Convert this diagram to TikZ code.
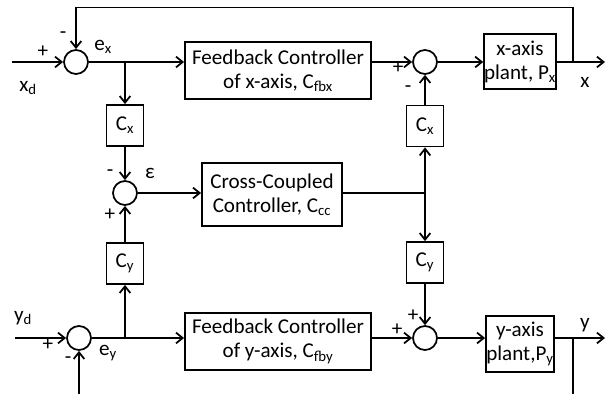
\documentclass[tikz,border=0pt]{standalone}
\usepackage{fontspec}
\setmainfont{Carlito}
\usetikzlibrary{arrows.meta,calc,positioning}
\definecolor{ccInk}{HTML}{000000}
\newcommand{\lo}[1]{\textsubscript{#1}}
\tikzset{
  cc canvas/.style={fill=white},
  cc block/.style={draw=ccInk, line width=1.5pt, rectangle, align=center,
    inner sep=0pt, font=\fontsize{18}{20.5}\selectfont},
  cc gain/.style={cc block, minimum width=1.11cm, minimum height=1.23cm},
  cc sum/.style={draw=ccInk, line width=1.5pt, circle, inner sep=0pt,
    minimum size=0.72cm},
  cc signal/.style={draw=ccInk, line width=1.5pt,
    -{Straight Barb[length=2mm,width=3.2mm,line width=1.5pt]}},
  cc wire/.style={draw=ccInk, line width=1.5pt},
  cc label/.style={font=\fontsize{18}{20}\selectfont, text=ccInk, inner sep=0pt}
}

\begin{document}
\begin{tikzpicture}[x=0.03cm,y=-0.03cm]
  \path[cc canvas] (0,0) rectangle (612,394);
  \useasboundingbox (0,0) rectangle (612,394);

  \node[cc sum] (sx) at (76,62) {};
  \node[cc sum] (se) at (125,193) {};
  \node[cc sum] (sy) at (79,338) {};
  \node[cc sum] (sux) at (425,62) {};
  \node[cc sum] (suy) at (425,338) {};

  \node[cc block, minimum width=5.58cm, minimum height=1.71cm] (fbx) at (278,70.5)
    {Feedback Controller\\of x-axis, C\lo{fbx}};
  \node[cc block, minimum width=5.58cm, minimum height=1.71cm] (fby) at (278,341.5)
    {Feedback Controller\\of y-axis, C\lo{fby}};
  \node[cc block, minimum width=4.2cm, minimum height=1.89cm] (ccc) at (272,194.5)
    {Cross-Coupled\\Controller, C\lo{cc}};
  \node[cc block, minimum width=2.04cm, minimum height=1.65cm] (px) at (520,61.5)
    {x-axis\\plant, P\lo{x}};
  \node[cc block, minimum width=2.04cm, minimum height=1.68cm] (py) at (520,344)
    {y-axis\\plant,P\lo{y}};

  \node[cc gain] (cxl) at (125,125.5) {C\lo{x}};
  \node[cc gain] (cyl) at (125,263.5) {C\lo{y}};
  \node[cc gain] (cxr) at (425,126) {C\lo{x}};
  \node[cc gain] (cyr) at (425,262.5) {C\lo{y}};

  \coordinate (xin) at (12,62);
  \coordinate (yin) at (15,338);
  \coordinate (bx) at (125,62);
  \coordinate (by) at (125,338);
  \coordinate (bcc) at (425,193);
  \coordinate (xout) at (605,62);
  \coordinate (yout) at (605,338);
  \coordinate (tapx) at (573,62);
  \coordinate (tapy) at (573,338);
  \coordinate (topx) at (573,7.5);
  \coordinate (boty) at (573,394);
  \coordinate (botsy) at (79,394);

  \draw[cc signal] (xin) -- (sx.west);
  \draw[cc signal] (sx.east) -- (sx -| fbx.west);
  \draw[cc signal] (bx) -- (cxl.north);
  \draw[cc signal] (cxl.south) -- (se.north);
  \draw[cc signal] (se.east) -- (se -| ccc.west);
  \draw[cc signal] (yin) -- (sy.west);
  \draw[cc signal] (sy.east) -- (sy -| fby.west);
  \draw[cc signal] (by) -- (cyl.south);
  \draw[cc signal] (cyl.north) -- (se.south);
  \draw[cc signal] (botsy) -- (sy.south);

  \draw[cc signal] (sux -| fbx.east) -- (sux.west);
  \draw[cc signal] (sux.east) -- (sux -| px.west);
  \draw[cc signal] (sux -| px.east) -- (xout);
  \draw[cc signal] (tapx) -- (topx) -| (sx.north);
  \draw[cc wire] (se -| ccc.east) -- (bcc);
  \draw[cc signal] (bcc) -- (cxr.south);
  \draw[cc signal] (cxr.north) -- (sux.south);
  \draw[cc signal] (bcc) -- (cyr.north);
  \draw[cc signal] (cyr.south) -- (suy.north);
  \draw[cc signal] (suy -| fby.east) -- (suy.west);
  \draw[cc signal] (suy.east) -- (suy -| py.west);
  \draw[cc signal] (suy -| py.east) -- (yout);
  \draw[cc wire] (tapy) -- (boty);

  \node[cc label] (lpx) at (43,52) {+};
  \node[cc label] (lmx) at (63,35) {-};
  \node[cc label] (lxd) at (28,88) {x\lo{d}};
  \node[cc label] (lex) at (103,47) {e\lo{x}};
  \node[cc label] (lme) at (110,173) {-};
  \node[cc label] (leps) at (150,173) {ε};
  \node[cc label] (lpe) at (110,215) {+};
  \node[cc label] (lyd) at (23,318) {y\lo{d}};
  \node[cc label] (lpy) at (48,345) {+};
  \node[cc label] (lmy) at (68,360) {-};
  \node[cc label] (ley) at (108,353) {e\lo{y}};
  \node[cc label] (lpux) at (398,68) {+};
  \node[cc label] (lmux) at (408,89) {-};
  \node[cc label] (lx) at (585,82) {x};
  \node[cc label] (lpuyt) at (413,316) {+};
  \node[cc label] (lpuyl) at (397,330) {+};
  \node[cc label] (ly) at (585,325) {y};
\end{tikzpicture}
\end{document}
